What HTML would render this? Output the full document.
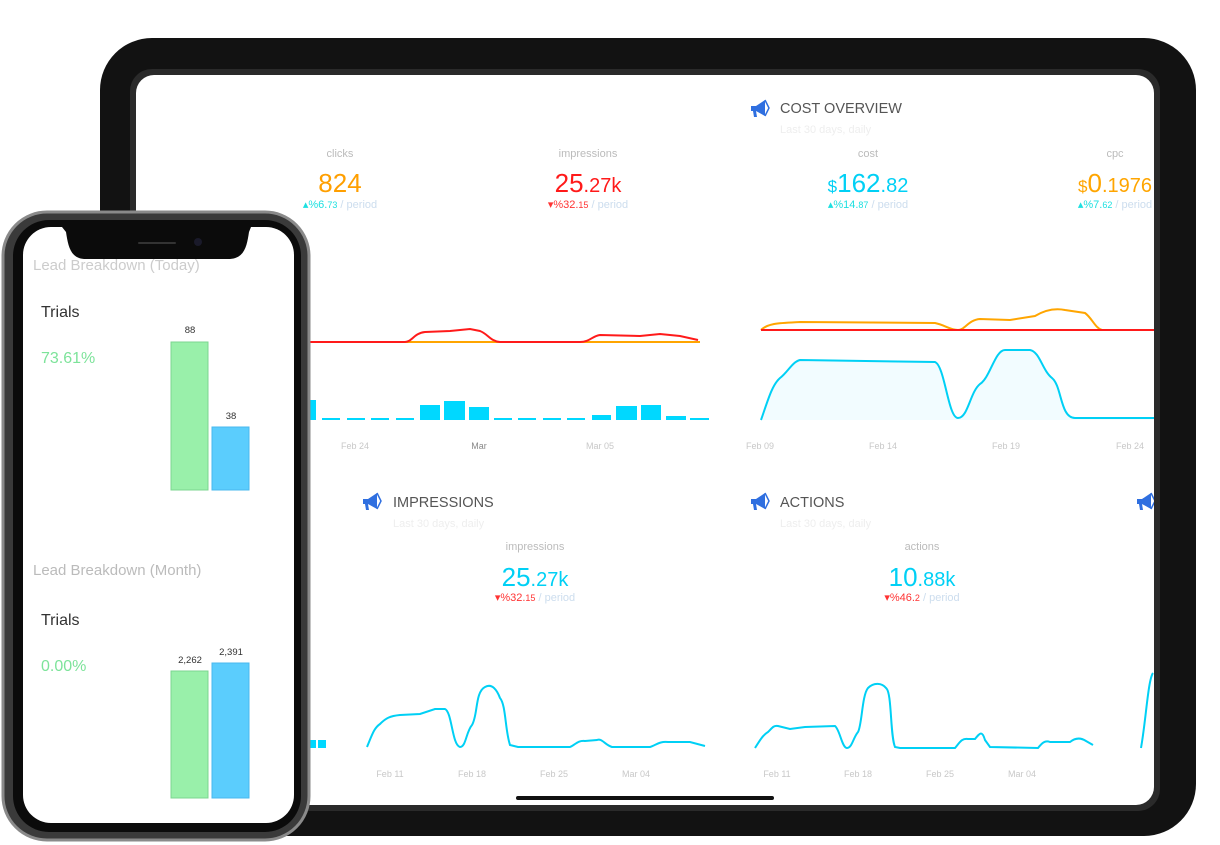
<!DOCTYPE html>
<html><head><meta charset="utf-8"><style>
html,body{margin:0;padding:0;background:#fff;}
svg{display:block;font-family:"Liberation Sans",sans-serif;}
.lbl{fill:#bbb;font-size:11px;text-anchor:middle;}
.ax{fill:#c8c8c8;font-size:9px;text-anchor:middle;}
.hd{fill:#555;font-size:14.5px;}
.sub{fill:#eee;font-size:11px;}
.big{font-size:26px;text-anchor:middle;}
.chg{font-size:11px;text-anchor:middle;}
</style></head><body>
<svg width="1220" height="845" viewBox="0 0 1220 845" xmlns="http://www.w3.org/2000/svg">
<defs>
<g id="mega"><path d="M0 4 L5 4 L14 -2 L14 14 L5 9 L0 9 Z" fill="#2f6fe0"/><path d="M2 9 L5 9 L6 15 L3 15 Z" fill="#2f6fe0"/><path d="M14 -2 L18 6 L14 14" fill="none" stroke="#2f6fe0" stroke-width="1.5"/></g>
<clipPath id="scr"><rect x="136" y="75" width="1018" height="730" rx="18"/></clipPath>
</defs>
<!-- tablet -->
<rect x="100" y="38" width="1096" height="798" rx="52" fill="#121212"/>
<rect x="130" y="69" width="1030" height="742" rx="22" fill="#2a2a2a"/>
<rect x="136" y="75" width="1018" height="730" rx="18" fill="#fff"/>
<rect x="516" y="796" width="258" height="4" rx="2" fill="#111"/>
<g clip-path="url(#scr)">
<use href="#mega" x="751" y="102"/>
<text x="780" y="113" class="hd">COST OVERVIEW</text>
<text x="780" y="133" class="sub">Last 30 days, daily</text>

<text x="340" y="157" class="lbl">clicks</text>
<text x="340" y="192" class="big" fill="#ff9f00">824</text>
<text x="340" y="208" class="chg"><tspan fill="#1de0e0">▴%6.<tspan font-size="9">73</tspan></tspan><tspan fill="#cde" > / period</tspan></text>
<text x="588" y="157" class="lbl">impressions</text>
<text x="588" y="192" class="big" fill="#ff1a1a">25<tspan font-size="20">.27k</tspan></text>
<text x="588" y="208" class="chg"><tspan fill="#ff3333">▾%32.<tspan font-size="9">15</tspan></tspan><tspan fill="#cde"> / period</tspan></text>
<text x="868" y="157" class="lbl">cost</text>
<text x="868" y="192" class="big" fill="#00d0f5"><tspan font-size="17">$</tspan>162<tspan font-size="20">.82</tspan></text>
<text x="868" y="208" class="chg"><tspan fill="#1de0e0">▴%14.<tspan font-size="9">87</tspan></tspan><tspan fill="#cde"> / period</tspan></text>
<text x="1115" y="157" class="lbl">cpc</text>
<text x="1115" y="192" class="big" fill="#ffa500"><tspan font-size="17">$</tspan>0<tspan font-size="20">.1976</tspan></text>
<text x="1115" y="208" class="chg"><tspan fill="#1de0e0">▴%7.<tspan font-size="9">62</tspan></tspan><tspan fill="#cde"> / period</tspan></text>

<line x1="310" y1="342" x2="700" y2="342" stroke="#ffa500" stroke-width="2"/>
<path d="M310 342 L405 342 C412 342 414 333 425 332 L450 331 L470 329 L480 331 C488 334 490 341 500 342 L580 342 C590 342 592 336 600 335 L640 336 L660 334 L680 336 L698 340" fill="none" stroke="#ff1a1a" stroke-width="2"/>
<g fill="#00d8ff">
<rect x="310" y="400" width="6" height="20"/>
<rect x="322" y="418" width="18" height="2"/><rect x="347" y="418" width="18" height="2"/><rect x="371" y="418" width="18" height="2"/><rect x="396" y="418" width="18" height="2"/>
<rect x="420" y="405" width="20" height="15"/><rect x="444" y="401" width="21" height="19"/><rect x="469" y="407" width="20" height="13"/>
<rect x="494" y="418" width="18" height="2"/><rect x="518" y="418" width="18" height="2"/><rect x="543" y="418" width="18" height="2"/><rect x="567" y="418" width="18" height="2"/>
<rect x="592" y="415" width="19" height="5"/><rect x="616" y="406" width="21" height="14"/><rect x="641" y="405" width="20" height="15"/><rect x="666" y="416" width="20" height="4"/><rect x="690" y="418" width="19" height="2"/>
</g>
<text x="355" y="449" class="ax">Feb 24</text>
<text x="479" y="449" class="ax" style="fill:#888">Mar</text>
<text x="600" y="449" class="ax">Mar 05</text>

<path d="M761 420 C768 400 772 385 780 378 C788 372 792 362 800 360 L935 362 C945 366 948 418 958 418 C968 418 970 392 980 384 C990 378 995 350 1005 350 L1030 350 C1040 352 1042 370 1052 378 C1062 386 1060 418 1075 418 L1154 418 L1154 420 Z" fill="#f2fcff"/>
<path d="M761 420 C768 400 772 385 780 378 C788 372 792 362 800 360 L935 362 C945 366 948 418 958 418 C968 418 970 392 980 384 C990 378 995 350 1005 350 L1030 350 C1040 352 1042 370 1052 378 C1062 386 1060 418 1075 418 L1154 418" fill="none" stroke="#00d0f5" stroke-width="2"/>
<path d="M761 330 C768 323 780 323 800 322 L935 323 C945 325 950 330 958 330 C965 330 968 320 980 319 L1010 320 L1035 316 C1045 310 1055 308 1065 310 L1085 313 C1092 318 1095 328 1102 330" fill="none" stroke="#ffa500" stroke-width="2"/>
<line x1="761" y1="330" x2="1154" y2="330" stroke="#ff1a1a" stroke-width="2"/>
<text x="760" y="449" class="ax">Feb 09</text>
<text x="883" y="449" class="ax">Feb 14</text>
<text x="1006" y="449" class="ax">Feb 19</text>
<text x="1130" y="449" class="ax">Feb 24</text>

<use href="#mega" x="363" y="495"/>
<text x="393" y="507" class="hd">IMPRESSIONS</text>
<text x="393" y="527" class="sub">Last 30 days, daily</text>
<text x="535" y="550" class="lbl">impressions</text>
<text x="535" y="586" class="big" fill="#00d0f5">25<tspan font-size="20">.27k</tspan></text>
<text x="535" y="601" class="chg"><tspan fill="#ff3333">▾%32.<tspan font-size="9">15</tspan></tspan><tspan fill="#cde"> / period</tspan></text>
<rect x="310" y="740" width="6" height="8" fill="#00d8ff"/><rect x="318" y="740" width="8" height="8" fill="#00d8ff"/>
<path d="M367 747 C372 735 374 728 380 724 C386 718 390 716 400 715 L420 714 L435 709 L445 709 C452 712 452 745 460 747 C466 747 466 732 472 725 C478 715 475 692 485 687 C492 683 497 690 500 698 C506 705 505 730 510 745 L518 747 L570 747 C575 745 578 740 585 741 L597 740 C602 738 605 745 612 747 L650 747 C656 745 660 741 668 742 L690 742 L705 746" fill="none" stroke="#00d0f5" stroke-width="2"/>
<text x="390" y="777" class="ax">Feb 11</text>
<text x="472" y="777" class="ax">Feb 18</text>
<text x="554" y="777" class="ax">Feb 25</text>
<text x="636" y="777" class="ax">Mar 04</text>

<use href="#mega" x="751" y="495"/>
<text x="780" y="507" class="hd">ACTIONS</text>
<text x="780" y="527" class="sub">Last 30 days, daily</text>
<text x="922" y="550" class="lbl">actions</text>
<text x="922" y="586" class="big" fill="#00d0f5">10<tspan font-size="20">.88k</tspan></text>
<text x="922" y="601" class="chg"><tspan fill="#ff3333">▾%46.<tspan font-size="9">2</tspan></tspan><tspan fill="#cde"> / period</tspan></text>
<path d="M755 748 C760 740 763 735 768 732 C772 728 774 725 778 726 L790 729 L805 727 L835 726 C840 730 842 748 847 748 C852 748 853 738 858 732 C862 725 862 695 868 688 C874 682 882 683 886 688 C892 692 890 735 895 747 L900 748 L955 748 C960 742 962 738 968 739 L975 739 C980 733 982 730 985 740 L990 747 L1038 748 C1042 743 1045 740 1050 742 L1070 742 C1075 738 1080 737 1086 741 L1093 745" fill="none" stroke="#00d0f5" stroke-width="2"/>
<path d="M1141 748 C1146 720 1148 680 1153 673" fill="none" stroke="#00d0f5" stroke-width="2"/>
<use href="#mega" x="1137" y="495"/>
<text x="777" y="777" class="ax">Feb 11</text>
<text x="858" y="777" class="ax">Feb 18</text>
<text x="940" y="777" class="ax">Feb 25</text>
<text x="1022" y="777" class="ax">Mar 04</text>
</g>

<!-- phone -->
<rect x="3" y="212" width="306" height="628" rx="44" fill="#3a3a3a" stroke="#8a8a8a" stroke-width="3"/>
<rect x="13" y="220" width="288" height="612" rx="36" fill="#0b0b0b"/>
<rect x="23" y="227" width="271" height="596" rx="28" fill="#fff"/>
<text x="33" y="270" fill="#ccc" font-size="15">Lead Breakdown (Today)</text>
<path d="M62 227 L251 227 L249 232 C247 245 245 258 230 259 L84 259 C70 258 68 245 66 232 Z" fill="#0b0b0b"/>
<rect x="138" y="242" width="38" height="2" rx="1" fill="#333"/>
<circle cx="198" cy="242" r="4" fill="#1a1a2a"/>
<text x="41" y="317" fill="#333" font-size="16">Trials</text>
<text x="41" y="363" fill="#7de39a" font-size="16">73.61%</text>
<text x="190" y="333" fill="#333" font-size="9.5" text-anchor="middle">88</text>
<rect x="171" y="342" width="37" height="148" fill="#99f0aa" stroke="#7cd690" stroke-width="1"/>
<text x="231" y="419" fill="#333" font-size="9.5" text-anchor="middle">38</text>
<rect x="212" y="427" width="37" height="63" fill="#5bcdfd" stroke="#49b8ee" stroke-width="1"/>
<text x="33" y="575" fill="#bbb" font-size="15">Lead Breakdown (Month)</text>
<text x="41" y="625" fill="#333" font-size="16">Trials</text>
<text x="41" y="671" fill="#7de39a" font-size="16">0.00%</text>
<text x="190" y="663" fill="#333" font-size="9.5" text-anchor="middle">2,262</text>
<rect x="171" y="671" width="37" height="127" fill="#99f0aa" stroke="#7cd690" stroke-width="1"/>
<text x="231" y="655" fill="#333" font-size="9.5" text-anchor="middle">2,391</text>
<rect x="212" y="663" width="37" height="135" fill="#5bcdfd" stroke="#49b8ee" stroke-width="1"/>
</svg>
</body></html>
